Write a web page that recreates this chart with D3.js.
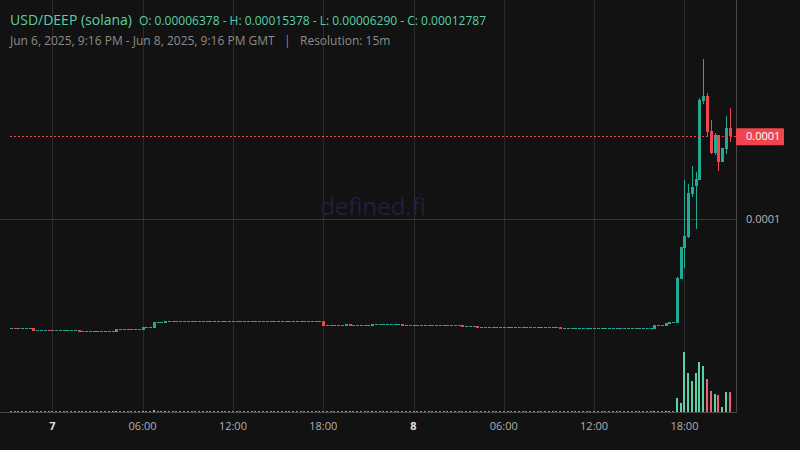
<!DOCTYPE html>
<html>
<head>
<meta charset="utf-8">
<script src="https://cdn.jsdelivr.net/npm/d3@7"></script>
<style>
html,body{margin:0;padding:0;background:#121212;}
svg{display:block;}
text{font-family:"Open Sans","Noto Sans",sans-serif;}
</style>
</head>
<body>
<svg id="chart" width="800" height="450"></svg>
<script>
// ---- data: 15-minute candles, USD/DEEP (solana), Jun 6 2025 21:15 GMT onward ----
const startTime = "2025-06-06T21:15:00Z";
const intervalMinutes = 15;
const tickTimes = ["2025-06-07T00:00:00Z","2025-06-07T06:00:00Z","2025-06-07T12:00:00Z","2025-06-07T18:00:00Z",
                   "2025-06-08T00:00:00Z","2025-06-08T06:00:00Z","2025-06-08T12:00:00Z","2025-06-08T18:00:00Z"];
const tickLabels = ["7","06:00","12:00","18:00","8","06:00","12:00","18:00"];
const priceTicks = [0.0001];
const lastPrice = 0.00012787;

const open = [
 6.316e-5,6.318e-5,6.316e-5,6.316e-5,6.316e-5,6.316e-5,6.316e-5,
 6.249e-5,6.249e-5,6.249e-5,6.251e-5,6.249e-5,6.249e-5,6.249e-5,6.249e-5,6.249e-5,6.249e-5,6.249e-5,
 6.259e-5,6.215e-5,6.215e-5,6.215e-5,6.215e-5,6.215e-5,6.215e-5,6.215e-5,6.215e-5,6.215e-5,
 6.191e-5,6.283e-5,6.283e-5,6.283e-5,6.283e-5,6.283e-5,6.283e-5,
 6.259e-5,6.350e-5,6.350e-5,6.326e-5,6.518e-5,6.518e-5,6.495e-5,6.552e-5,6.552e-5,6.552e-5,6.554e-5,
 6.552e-5,6.552e-5,6.552e-5,6.552e-5,6.552e-5,6.552e-5,6.552e-5,6.552e-5,6.552e-5,6.552e-5,
 6.552e-5,6.552e-5,6.552e-5,6.552e-5,6.552e-5,6.552e-5,6.552e-5,6.552e-5,6.552e-5,6.552e-5,
 6.552e-5,6.552e-5,6.552e-5,6.552e-5,6.552e-5,6.552e-5,6.552e-5,6.552e-5,6.552e-5,6.552e-5,
 6.552e-5,6.552e-5,6.552e-5,6.552e-5,6.552e-5,6.552e-5,6.552e-5,
 6.562e-5,6.417e-5,6.417e-5,6.417e-5,6.417e-5,6.417e-5,6.404e-5,6.451e-5,
 6.417e-5,6.417e-5,6.417e-5,6.417e-5,6.417e-5,6.404e-5,
 6.451e-5,6.451e-5,6.451e-5,6.451e-5,6.451e-5,6.451e-5,6.451e-5,6.461e-5,
 6.417e-5,6.417e-5,6.417e-5,6.417e-5,6.417e-5,6.417e-5,6.417e-5,6.417e-5,6.417e-5,6.417e-5,
 6.417e-5,6.417e-5,6.417e-5,6.417e-5,6.417e-5,
 6.427e-5,6.384e-5,6.384e-5,6.384e-5,6.394e-5,
 6.350e-5,6.350e-5,6.350e-5,6.350e-5,6.350e-5,6.350e-5,6.350e-5,6.350e-5,6.350e-5,6.350e-5,
 6.350e-5,6.350e-5,6.350e-5,6.350e-5,6.352e-5,6.350e-5,6.350e-5,6.350e-5,6.350e-5,6.350e-5,6.350e-5,
 6.360e-5,
 6.316e-5,6.316e-5,6.316e-5,6.316e-5,6.316e-5,6.316e-5,6.316e-5,6.316e-5,6.316e-5,6.316e-5,
 6.316e-5,6.316e-5,6.316e-5,6.316e-5,6.316e-5,6.316e-5,6.316e-5,6.316e-5,6.316e-5,6.316e-5,
 6.316e-5,6.316e-5,6.316e-5,6.316e-5,
 6.290e-5,6.417e-5,6.417e-5,6.394e-5,6.461e-5,6.528e-5,6.505e-5,7.988e-5,9.022e-5,9.393e-5,
 10.842e-5,11.112e-5,11.325e-5,13.977e-5,14.146e-5,12.966e-5,12.224e-5,12.831e-5,11.921e-5,12.359e-5,13.067e-5
];
const close = [
 6.316e-5,6.316e-5,6.316e-5,6.316e-5,6.316e-5,6.316e-5,6.225e-5,
 6.249e-5,6.249e-5,6.249e-5,6.249e-5,6.249e-5,6.249e-5,6.249e-5,6.249e-5,6.249e-5,6.249e-5,6.249e-5,
 6.202e-5,6.215e-5,6.215e-5,6.215e-5,6.215e-5,6.215e-5,6.215e-5,6.215e-5,6.215e-5,6.215e-5,
 6.293e-5,6.283e-5,6.283e-5,6.283e-5,6.283e-5,6.283e-5,6.283e-5,
 6.360e-5,6.350e-5,6.350e-5,6.528e-5,6.518e-5,6.518e-5,6.562e-5,6.552e-5,6.552e-5,6.552e-5,6.552e-5,
 6.552e-5,6.552e-5,6.552e-5,6.552e-5,6.552e-5,6.552e-5,6.552e-5,6.552e-5,6.552e-5,6.552e-5,
 6.552e-5,6.552e-5,6.552e-5,6.552e-5,6.552e-5,6.552e-5,6.552e-5,6.552e-5,6.552e-5,6.552e-5,
 6.552e-5,6.552e-5,6.552e-5,6.552e-5,6.552e-5,6.552e-5,6.552e-5,6.552e-5,6.552e-5,6.552e-5,
 6.552e-5,6.552e-5,6.552e-5,6.552e-5,6.552e-5,6.552e-5,6.552e-5,
 6.394e-5,6.417e-5,6.417e-5,6.417e-5,6.417e-5,6.417e-5,6.451e-5,6.404e-5,
 6.417e-5,6.417e-5,6.417e-5,6.417e-5,6.417e-5,6.461e-5,
 6.451e-5,6.451e-5,6.451e-5,6.451e-5,6.451e-5,6.451e-5,6.451e-5,6.394e-5,
 6.417e-5,6.417e-5,6.417e-5,6.417e-5,6.417e-5,6.417e-5,6.417e-5,6.417e-5,6.417e-5,6.417e-5,
 6.417e-5,6.417e-5,6.417e-5,6.417e-5,6.417e-5,
 6.360e-5,6.384e-5,6.384e-5,6.384e-5,6.326e-5,
 6.350e-5,6.350e-5,6.350e-5,6.350e-5,6.350e-5,6.350e-5,6.350e-5,6.350e-5,6.350e-5,6.350e-5,
 6.350e-5,6.350e-5,6.350e-5,6.350e-5,6.350e-5,6.350e-5,6.350e-5,6.350e-5,6.350e-5,6.350e-5,6.350e-5,
 6.290e-5,
 6.316e-5,6.316e-5,6.316e-5,6.316e-5,6.316e-5,6.316e-5,6.316e-5,6.316e-5,6.316e-5,6.316e-5,
 6.316e-5,6.316e-5,6.316e-5,6.316e-5,6.316e-5,6.316e-5,6.316e-5,6.316e-5,6.316e-5,6.316e-5,
 6.316e-5,6.316e-5,6.316e-5,6.316e-5,
 6.427e-5,6.417e-5,6.417e-5,6.495e-5,6.528e-5,6.528e-5,8.011e-5,9.056e-5,9.427e-5,10.876e-5,
 11.078e-5,11.348e-5,14.011e-5,14.146e-5,12.932e-5,12.224e-5,12.831e-5,11.921e-5,12.393e-5,13.067e-5,12.787e-5
];
const high = [
 6.316e-5,6.318e-5,6.316e-5,6.316e-5,6.316e-5,6.316e-5,6.316e-5,
 6.249e-5,6.249e-5,6.249e-5,6.251e-5,6.249e-5,6.249e-5,6.249e-5,6.249e-5,6.249e-5,6.249e-5,6.249e-5,
 6.259e-5,6.215e-5,6.215e-5,6.215e-5,6.215e-5,6.215e-5,6.215e-5,6.215e-5,6.215e-5,6.215e-5,
 6.293e-5,6.283e-5,6.283e-5,6.283e-5,6.283e-5,6.283e-5,6.283e-5,
 6.360e-5,6.350e-5,6.350e-5,6.528e-5,6.518e-5,6.518e-5,6.562e-5,6.552e-5,6.552e-5,6.552e-5,6.554e-5,
 6.552e-5,6.552e-5,6.552e-5,6.552e-5,6.552e-5,6.552e-5,6.552e-5,6.552e-5,6.552e-5,6.552e-5,
 6.552e-5,6.552e-5,6.552e-5,6.552e-5,6.552e-5,6.552e-5,6.552e-5,6.552e-5,6.552e-5,6.552e-5,
 6.552e-5,6.552e-5,6.552e-5,6.552e-5,6.552e-5,6.552e-5,6.552e-5,6.552e-5,6.552e-5,6.552e-5,
 6.552e-5,6.552e-5,6.552e-5,6.552e-5,6.552e-5,6.552e-5,6.552e-5,
 6.562e-5,6.417e-5,6.417e-5,6.417e-5,6.417e-5,6.417e-5,6.451e-5,6.451e-5,
 6.417e-5,6.417e-5,6.417e-5,6.417e-5,6.417e-5,6.461e-5,
 6.451e-5,6.451e-5,6.451e-5,6.451e-5,6.451e-5,6.451e-5,6.451e-5,6.461e-5,
 6.417e-5,6.417e-5,6.417e-5,6.417e-5,6.417e-5,6.417e-5,6.417e-5,6.417e-5,6.417e-5,6.417e-5,
 6.417e-5,6.417e-5,6.417e-5,6.417e-5,6.417e-5,
 6.427e-5,6.384e-5,6.384e-5,6.384e-5,6.394e-5,
 6.350e-5,6.350e-5,6.350e-5,6.350e-5,6.350e-5,6.350e-5,6.350e-5,6.350e-5,6.350e-5,6.350e-5,
 6.350e-5,6.350e-5,6.350e-5,6.350e-5,6.352e-5,6.350e-5,6.350e-5,6.350e-5,6.350e-5,6.350e-5,6.350e-5,
 6.360e-5,
 6.316e-5,6.316e-5,6.316e-5,6.316e-5,6.316e-5,6.316e-5,6.316e-5,6.316e-5,6.316e-5,6.316e-5,
 6.316e-5,6.316e-5,6.316e-5,6.316e-5,6.316e-5,6.316e-5,6.316e-5,6.316e-5,6.316e-5,6.316e-5,
 6.316e-5,6.316e-5,6.316e-5,6.316e-5,
 6.427e-5,6.417e-5,6.417e-5,6.495e-5,6.528e-5,6.528e-5,8.045e-5,9.056e-5,11.314e-5,11.180e-5,
 11.786e-5,11.584e-5,14.078e-5,15.378e-5,14.247e-5,13.337e-5,12.899e-5,12.831e-5,12.393e-5,13.472e-5,13.741e-5
];
const low = [
 6.316e-5,6.316e-5,6.316e-5,6.316e-5,6.316e-5,6.316e-5,6.225e-5,
 6.249e-5,6.249e-5,6.249e-5,6.249e-5,6.249e-5,6.249e-5,6.249e-5,6.249e-5,6.249e-5,6.249e-5,6.249e-5,
 6.202e-5,6.215e-5,6.215e-5,6.215e-5,6.215e-5,6.215e-5,6.215e-5,6.215e-5,6.215e-5,6.215e-5,
 6.191e-5,6.283e-5,6.283e-5,6.283e-5,6.283e-5,6.283e-5,6.283e-5,
 6.259e-5,6.350e-5,6.350e-5,6.326e-5,6.518e-5,6.518e-5,6.495e-5,6.552e-5,6.552e-5,6.552e-5,6.552e-5,
 6.552e-5,6.552e-5,6.552e-5,6.552e-5,6.552e-5,6.552e-5,6.552e-5,6.552e-5,6.552e-5,6.552e-5,
 6.552e-5,6.552e-5,6.552e-5,6.552e-5,6.552e-5,6.552e-5,6.552e-5,6.552e-5,6.552e-5,6.552e-5,
 6.552e-5,6.552e-5,6.552e-5,6.552e-5,6.552e-5,6.552e-5,6.552e-5,6.552e-5,6.552e-5,6.552e-5,
 6.552e-5,6.552e-5,6.552e-5,6.552e-5,6.552e-5,6.552e-5,6.552e-5,
 6.394e-5,6.417e-5,6.417e-5,6.417e-5,6.417e-5,6.417e-5,6.404e-5,6.404e-5,
 6.417e-5,6.417e-5,6.417e-5,6.417e-5,6.417e-5,6.404e-5,
 6.451e-5,6.451e-5,6.451e-5,6.451e-5,6.451e-5,6.451e-5,6.451e-5,6.394e-5,
 6.417e-5,6.417e-5,6.417e-5,6.417e-5,6.417e-5,6.417e-5,6.417e-5,6.417e-5,6.417e-5,6.417e-5,
 6.417e-5,6.417e-5,6.417e-5,6.417e-5,6.417e-5,
 6.360e-5,6.384e-5,6.384e-5,6.384e-5,6.326e-5,
 6.350e-5,6.350e-5,6.350e-5,6.350e-5,6.350e-5,6.350e-5,6.350e-5,6.350e-5,6.350e-5,6.350e-5,
 6.350e-5,6.350e-5,6.350e-5,6.350e-5,6.350e-5,6.350e-5,6.350e-5,6.350e-5,6.350e-5,6.350e-5,6.350e-5,
 6.290e-5,
 6.316e-5,6.316e-5,6.316e-5,6.316e-5,6.316e-5,6.316e-5,6.316e-5,6.316e-5,6.316e-5,6.316e-5,
 6.316e-5,6.316e-5,6.316e-5,6.316e-5,6.316e-5,6.316e-5,6.316e-5,6.316e-5,6.316e-5,6.316e-5,
 6.316e-5,6.316e-5,6.316e-5,6.316e-5,
 6.290e-5,6.417e-5,6.417e-5,6.394e-5,6.461e-5,6.528e-5,6.505e-5,7.988e-5,8.349e-5,9.360e-5,
 10.752e-5,9.673e-5,11.325e-5,13.876e-5,12.764e-5,12.191e-5,12.157e-5,11.618e-5,11.921e-5,12.191e-5,12.595e-5
];
// volume in USD per candle
const volume = [
 150,150,150,150,150,150,150,150,150,150,150,150,150,150,150,150,150,150,150,150,
 150,150,150,150,150,150,150,150,150,150,150,150,150,150,150,150,150,150,400,150,
 150,150,150,150,150,150,150,150,150,150,150,150,150,150,150,150,150,150,150,150,
 150,150,150,150,150,150,150,150,150,150,150,150,150,150,150,150,150,150,150,150,
 150,150,150,150,150,150,150,150,150,150,150,150,150,150,150,150,150,150,150,150,
 150,150,150,150,150,150,150,150,150,150,150,150,150,150,150,150,150,150,150,150,
 150,150,150,150,150,150,150,150,150,150,150,150,150,150,150,150,150,150,150,150,
 150,150,150,150,150,150,150,150,150,150,150,150,150,150,150,150,150,150,150,150,
 150,150,150,150,150,150,150,150,150,150,150,150,150,150,150,150,150,
 2700,1700,11900,7700,6100,7700,9900,9100,6500,4100,3500,3300,900,3900,3900
];

// ---- chart ----
const W = 800, H = 450;
const plotRight = 736.5, axisY = 412.5;
const upColor = "#22ab94", downColor = "#f0454f";
const volUp = "#5dd1a6", volDown = "#e8637a";

const svg = d3.select("#chart");
svg.append("rect").attr("width", W).attr("height", H).attr("fill", "#121212");

const t0 = new Date(startTime).getTime();
const candles = open.map((o, i) => ({
  t: new Date(t0 + i * intervalMinutes * 60000),
  o, c: close[i], h: high[i], l: low[i], v: volume[i]
}));

const x = d3.scaleUtc()
  .domain([new Date("2025-06-06T21:00:00Z"), new Date("2025-06-08T21:30:00Z")])
  .range([7.15, 737.1]);
const y = d3.scaleLinear().domain([0.00005, 0.00016]).range([367.35, 41.0]);
const yv = d3.scaleLinear().domain([0, d3.max(volume)]).range([411.5, 352]);

// grid
const ticks = tickTimes.map(s => new Date(s));
svg.append("g").selectAll("line").data(ticks).join("line")
  .attr("x1", d => Math.round(x(d)) + 0.5).attr("x2", d => Math.round(x(d)) + 0.5)
  .attr("y1", 0).attr("y2", axisY)
  .attr("stroke", "#2b2b2b").attr("stroke-width", 1);
svg.append("g").selectAll("line").data(priceTicks).join("line")
  .attr("x1", 0).attr("x2", plotRight)
  .attr("y1", d => Math.round(y(d)) + 0.5).attr("y2", d => Math.round(y(d)) + 0.5)
  .attr("stroke", "#363636").attr("stroke-width", 1);

// watermark
svg.append("text").attr("x", 373).attr("y", 215).attr("text-anchor", "middle")
  .attr("font-size", 24).attr("fill", "#221e40").text("defined.fi");

// volume
svg.append("g").selectAll("rect").data(candles).join("rect")
  .attr("x", d => Math.round(x(d.t) - 1)).attr("width", 2)
  .attr("y", d => Math.min(yv(d.v), 410.5))
  .attr("height", d => Math.max(1, 411.5 - yv(d.v)))
  .attr("fill", d => d.c > d.o ? volUp : volDown)
  .attr("shape-rendering", "crispEdges");

// candles
const cg = svg.append("g").attr("shape-rendering", "crispEdges");
cg.selectAll("line").data(candles).join("line")
  .attr("x1", d => Math.round(x(d.t)) + 0.5).attr("x2", d => Math.round(x(d.t)) + 0.5)
  .attr("y1", d => y(d.h)).attr("y2", d => y(d.l))
  .attr("stroke", d => d.c >= d.o ? upColor : downColor).attr("stroke-width", 1);
cg.selectAll("rect").data(candles).join("rect")
  .attr("x", d => Math.round(x(d.t)) - 1).attr("width", 3)
  .attr("y", d => y(Math.max(d.o, d.c)))
  .attr("height", d => Math.max(1, y(Math.min(d.o, d.c)) - y(Math.max(d.o, d.c))))
  .attr("fill", d => d.c >= d.o ? upColor : downColor);

// last price line
svg.append("line").attr("x1", 10).attr("x2", plotRight)
  .attr("y1", Math.round(y(lastPrice)) + 0.5).attr("y2", Math.round(y(lastPrice)) + 0.5)
  .attr("stroke", "#f0454f").attr("stroke-width", 1).attr("stroke-dasharray", "2,2");

// axes borders
svg.append("line").attr("x1", plotRight).attr("x2", plotRight).attr("y1", 0).attr("y2", axisY)
  .attr("stroke", "#4a4a4a");
svg.append("line").attr("x1", 0).attr("x2", plotRight).attr("y1", axisY).attr("y2", axisY)
  .attr("stroke", "#4a4a4a");

// x tick labels
svg.append("g").selectAll("text").data(ticks).join("text")
  .attr("x", d => x(d)).attr("y", 429.5).attr("text-anchor", "middle")
  .attr("font-size", 11)
  .attr("font-weight", (d, i) => tickLabels[i].length === 1 ? 700 : 400)
  .attr("fill", (d, i) => tickLabels[i].length === 1 ? "#e0e0e0" : "#b0b0b0")
  .text((d, i) => tickLabels[i]);

// price labels
svg.append("g").selectAll("text").data(priceTicks).join("text")
  .attr("x", 746).attr("y", d => y(d) + 4)
  .attr("font-size", 11).attr("fill", "#b8b8b8").text(d => d.toFixed(4));
const ly = y(lastPrice);
svg.append("rect").attr("x", 736).attr("y", ly - 8).attr("width", 48).attr("height", 17)
  .attr("rx", 1).attr("fill", "#f0454f");
svg.append("text").attr("x", 746).attr("y", ly + 4)
  .attr("font-size", 11).attr("fill", "#ffffff").text(lastPrice.toFixed(4));

// header
svg.append("text").attr("x", 10).attr("y", 25).attr("font-size", 14).attr("fill", "#5ccfa6")
  .text("USD/DEEP (solana)");
svg.append("text").attr("x", 139).attr("y", 25).attr("font-size", 12).attr("fill", "#5ccfa6")
  .text("O: 0.00006378 - H: 0.00015378 - L: 0.00006290 - C: 0.00012787");
svg.append("text").attr("x", 10).attr("y", 45).attr("font-size", 12).attr("fill", "#8c8c8c")
  .attr("xml:space", "preserve")
  .text("Jun 6, 2025, 9:16 PM - Jun 8, 2025, 9:16 PM GMT   |   Resolution: 15m");
</script>
</body>
</html>
